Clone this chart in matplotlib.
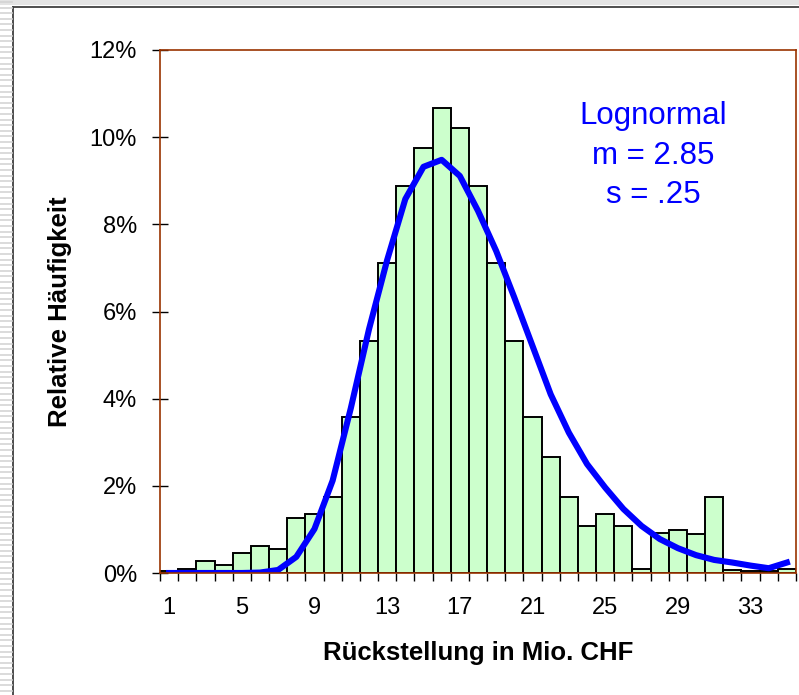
#Libraries
import numpy as np
import matplotlib
matplotlib.use("Agg")
import matplotlib.pyplot as plt
from matplotlib.ticker import FixedLocator, FuncFormatter
from matplotlib.lines import Line2D

plt.rcParams['font.family'] = ['Liberation Sans', 'DejaVu Sans']

#Data (values in percent)
classes = np.arange(1, 36)
rel_freq = [0.04, 0.10, 0.27, 0.18, 0.45, 0.63, 0.54, 1.26, 1.35, 1.75,
            3.57, 5.32, 7.11, 8.87, 9.76, 10.68, 10.22, 8.87, 7.11, 5.32,
            3.57, 2.66, 1.75, 1.08, 1.35, 1.08, 0.10, 0.91, 0.99, 0.89,
            1.75, 0.08, 0.05, 0.05, 0.10]
lognormal_fit = [0.0, 0.0, 0.0, 0.0, 0.0, 0.01, 0.07, 0.37, 1.01, 2.12,
                 3.78, 5.59, 7.18, 8.58, 9.32, 9.48, 9.11, 8.31, 7.39, 6.32,
                 5.21, 4.10, 3.22, 2.50, 1.96, 1.47, 1.08, 0.78, 0.57, 0.41,
                 0.30, 0.24, 0.17, 0.11, 0.24]
x_labels = [1, 5, 9, 13, 17, 21, 25, 29, 33]
y_ticks = [0, 2, 4, 6, 8, 10, 12]
fit_text = ["Lognormal", "m = 2.85", "s = .25"]

spine_col = '#993300'

fig = plt.figure(figsize=(7.99, 6.95), dpi=100)
ax = fig.add_axes([160/799, 1-573/695, 636/799, 523/695])

#Histogram bars and fitted curve
ax.bar(classes, rel_freq, width=1.0, color='#CCFFCC', edgecolor='black', linewidth=1.4, zorder=2)
ax.plot(classes, lognormal_fit, color='#0000FF', linewidth=4.4, solid_joinstyle='round', zorder=3)

ax.set_xlim(0.5, 35.5)
ax.set_ylim(0, 12)

#x axis: labels at class centres, tick marks at class edges
ax.xaxis.set_major_locator(FixedLocator(x_labels))
ax.xaxis.set_minor_locator(FixedLocator(np.arange(0.5, 36, 1)))
ax.tick_params(axis='x', which='major', length=0, pad=17, labelsize=17)
ax.tick_params(axis='x', which='minor', length=6, width=1, color='black', direction='out')

ax.yaxis.set_major_locator(FixedLocator(y_ticks))
ax.yaxis.set_major_formatter(FuncFormatter(lambda v, p: "%d%%" % v))
ax.tick_params(axis='y', which='major', length=11, width=1, color='black',
               direction='inout', pad=11, labelsize=17)

for s in ax.spines.values():
    s.set_color(spine_col)
    s.set_linewidth(1.2)
    s.set_zorder(4)

ax.set_xlabel("Rückstellung in Mio. CHF", fontsize=18.5, fontweight='bold', labelpad=16)
ax.set_ylabel("Relative Häufigkeit", fontsize=18.5, fontweight='bold', labelpad=13)

#Fit parameters
for txt, yy in zip(fit_text, [0.874, 0.798, 0.722]):
    ax.text(0.775, yy, txt, transform=ax.transAxes, ha='center', va='center',
            fontsize=22.5, color='#0000FF')

#Outer frame like the screenshot
fig.add_artist(Line2D([13.3/799, 13.3/799], [0, 1-6.7/695], transform=fig.transFigure,
                      color='#404040', linewidth=1.3))
fig.add_artist(Line2D([13.3/799, 1], [1-6.7/695, 1-6.7/695], transform=fig.transFigure,
                      color='#404040', linewidth=1.3))
fig.add_artist(plt.Rectangle((0, 1-5/695), 1, 5/695, transform=fig.transFigure,
                             color='#e4e4e4', linewidth=0))
for yy in np.arange(2, 695, 5.6):
    fig.add_artist(Line2D([0, 12/799], [1-yy/695, 1-yy/695], transform=fig.transFigure,
                          color='#d4d4d4', linewidth=1.2))

fig.savefig("out.png", dpi=100)
